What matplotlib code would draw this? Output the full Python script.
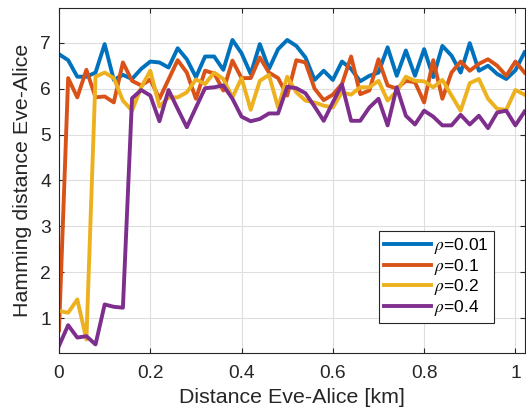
import matplotlib
matplotlib.use("Agg")
import matplotlib.pyplot as plt
import numpy as np

# ================= DATA =================
distance = np.arange(52) * 0.02  # km

rho_001 = [6.75, 6.62, 6.26, 6.26, 6.35, 6.97, 6.19, 6.30, 6.21, 6.43,
           6.59, 6.57, 6.46, 6.88, 6.64, 6.25, 6.70, 6.70, 6.41, 7.06,
           6.77, 6.32, 6.97, 6.43, 6.86, 7.06, 6.93, 6.68, 6.19, 6.39,
           6.19, 6.59, 6.43, 6.16, 6.28, 6.35, 6.90, 6.28, 6.83, 6.28,
           6.86, 6.25, 6.93, 6.72, 6.35, 6.99, 6.39, 6.50, 6.32, 6.21,
           6.40, 6.79]
rho_01 = [0.74, 6.23, 5.81, 6.41, 5.81, 5.83, 5.70, 6.57, 6.17, 6.07,
          6.20, 5.78, 6.20, 6.62, 6.35, 5.78, 6.39, 6.33, 5.96, 6.61,
          6.23, 6.23, 6.68, 6.35, 6.23, 5.85, 6.62, 6.57, 6.00, 5.75,
          5.87, 6.10, 6.70, 5.88, 5.96, 6.64, 6.07, 6.00, 6.17, 6.14,
          5.70, 6.62, 5.78, 6.35, 6.59, 6.39, 6.54, 6.64, 6.50, 6.28,
          6.59, 6.35]
rho_02 = [1.16, 1.12, 1.41, 0.54, 6.26, 6.35, 6.23, 5.74, 5.52, 6.03,
          6.39, 5.61, 5.81, 5.81, 5.92, 6.20, 6.10, 6.35, 6.21, 5.81,
          6.23, 5.54, 6.17, 6.30, 5.59, 6.26, 5.92, 5.74, 5.70, 5.63,
          5.59, 5.92, 5.87, 6.03, 6.03, 6.17, 5.74, 5.94, 6.26, 6.17,
          6.16, 6.03, 6.19, 5.85, 5.52, 6.12, 6.21, 5.78, 5.56, 5.54,
          5.97, 5.87]
rho_04 = [0.40, 0.85, 0.58, 0.61, 0.43, 1.30, 1.25, 1.23, 5.79, 5.97,
          5.85, 5.29, 5.97, 5.56, 5.16, 5.59, 6.01, 6.03, 6.07, 5.78,
          5.39, 5.29, 5.34, 5.46, 5.46, 6.04, 6.01, 5.90, 5.61, 5.30,
          5.70, 6.09, 5.30, 5.30, 5.59, 5.78, 5.20, 6.03, 5.41, 5.22,
          5.52, 5.39, 5.20, 5.20, 5.43, 5.22, 5.41, 5.14, 5.48, 5.52,
          5.20, 5.50]

series = [rho_001, rho_01, rho_02, rho_04]
labels = [r'$\rho$=0.01', r'$\rho$=0.1', r'$\rho$=0.2', r'$\rho$=0.4']
colors = ['#0072BD', '#D95319', '#EDB120', '#7E2F8E']

# ================= PLOT =================
plt.rcParams['font.family'] = ['Liberation Sans', 'DejaVu Sans']
plt.rcParams['mathtext.fontset'] = 'stix'

fig = plt.figure(figsize=(5.26, 4.12), dpi=100)
ax = fig.add_axes([0.1122, 0.1439, 0.885, 0.836])

for vals, lab, col in zip(series, labels, colors):
    ax.plot(distance, vals, color=col, linewidth=2.8, label=lab)

ax.set_xlim(0, 1.02)
ax.set_ylim(0.25, 7.75)
ax.set_xticks([0, 0.2, 0.4, 0.6, 0.8, 1.0])
ax.set_xticklabels(['0', '0.2', '0.4', '0.6', '0.8', '1'])
ax.set_yticks(range(1, 8))

ax.grid(True, color='#dedede', linewidth=0.8)
ax.set_axisbelow(True)
for sp in ax.spines.values():
    sp.set_color('#262626')
    sp.set_linewidth(0.8)
ax.tick_params(direction='in', top=True, right=True, length=3.5, width=0.8,
               labelsize=13.8, colors='#262626')
ax.tick_params(axis='x', pad=9)
ax.tick_params(axis='y', pad=6)

ax.set_xlabel('Distance Eve-Alice [km]', fontsize=15.4, color='#262626', labelpad=4)
ax.set_ylabel('Hamming distance Eve-Alice', fontsize=15.4, color='#262626', labelpad=6)

leg = ax.legend(loc='upper left', bbox_to_anchor=(0.688, 0.353), borderaxespad=0,
                fontsize=12.5, fancybox=False, framealpha=1, edgecolor='#262626',
                handlelength=2.65, handletextpad=0.2, labelspacing=0.03,
                borderpad=0.3)
leg.get_frame().set_linewidth(0.8)

fig.savefig("out.png", dpi=100)
